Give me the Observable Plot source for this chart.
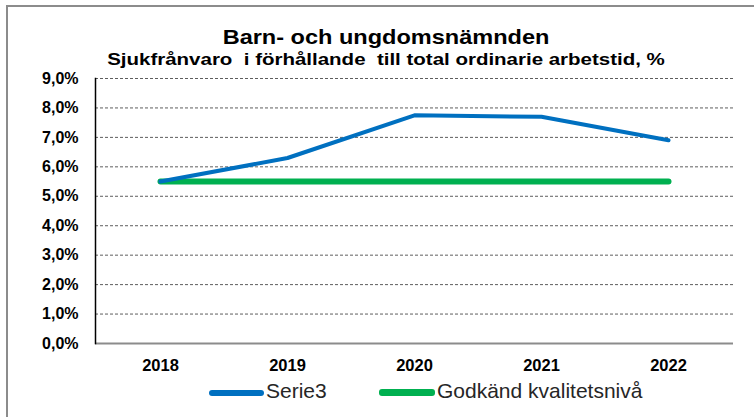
<!DOCTYPE html>
<html><head><meta charset="utf-8">
<script src="https://cdn.jsdelivr.net/npm/d3@7"></script>
<script src="https://cdn.jsdelivr.net/npm/@observablehq/plot@0.6"></script>
<style>
body{margin:0;background:#fff;font-family:Arial,"Liberation Sans",sans-serif;}
#wrap{position:relative;width:754px;height:417px;overflow:hidden;background:#fff;}
#box{position:absolute;left:6px;top:5px;width:800px;height:500px;border:2px solid #8c8c8c;}
#chart{position:absolute;left:0;top:0;}
.t{position:absolute;left:0;width:772px;text-align:center;font-weight:bold;color:#000;white-space:pre;transform-origin:386px 0;}
#title{top:25px;font-size:21px;transform:scaleX(1.12);}
#sub{top:51px;font-size:16px;transform:scaleX(1.28);}
.lg{position:absolute;top:379px;font-size:21px;color:#262626;white-space:pre;}
.sw{position:absolute;border-radius:3px;}
</style></head>
<body>
<div id="wrap">
<div id="box"></div>
<div id="chart"></div>
<div class="t" id="title">Barn- och ungdomsnämnden</div>
<div class="t" id="sub">Sjukfrånvaro  i förhållande  till total ordinarie arbetstid, %</div>
<div class="sw" style="left:209px;top:390px;width:55px;height:6px;background:#0070C0"></div>
<div class="lg" style="left:266px">Serie3</div>
<div class="sw" style="left:379px;top:389px;width:56px;height:7px;background:#00B050"></div>
<div class="lg" style="left:437px">Godkänd kvalitetsnivå</div>
</div>
<script>
const years = ["2018","2019","2020","2021","2022"];
const serie3 = [5.5, 6.3, 7.75, 7.7, 6.9];
const godkand = [5.5, 5.5, 5.5, 5.5, 5.5];
const yTicks = [0,1,2,3,4,5,6,7,8,9];
const gridTicks = [1,2,3,4,5,6,7,8,9];

const s3 = years.map((y,i)=>({year:y, v:serie3[i]}));
const gk = years.map((y,i)=>({year:y, v:godkand[i]}));
const fmt = d => d3.format(".1f")(d).replace(".", ",") + "%";

const plot = Plot.plot({
  width: 754, height: 417,
  marginLeft: 95, marginRight: 21, marginTop: 78, marginBottom: 74,
  style: {fontFamily: "Arial, 'Liberation Sans', sans-serif", background: "transparent"},
  x: {type: "point", domain: years, padding: 0.5},
  y: {domain: [0, 9]},
  marks: [
    Plot.ruleY(gridTicks, {stroke: "#000", strokeWidth: 0.8, strokeDasharray: "3,2", strokeOpacity: 0.8}),
    Plot.ruleY([0], {stroke: "#8c8c8c", strokeWidth: 2}),
    Plot.frame({anchor: "left", stroke: "#000", strokeWidth: 1.5}),
    Plot.axisY({ticks: yTicks, tickFormat: fmt, tickSize: 0, tickPadding: 17, fontSize: 16, fontWeight: "bold", label: null}),
    Plot.axisX({tickSize: 0, tickPadding: 16, fontSize: 16.5, fontWeight: "bold", label: null}),
    Plot.line(gk, {x: "year", y: "v", stroke: "#00B050", strokeWidth: 6, strokeLinecap: "round"}),
    Plot.line(s3, {x: "year", y: "v", stroke: "#0070C0", strokeWidth: 4, strokeLinecap: "round", strokeLinejoin: "round"})
  ]
});
document.getElementById("chart").appendChild(plot);
</script>
</body></html>
